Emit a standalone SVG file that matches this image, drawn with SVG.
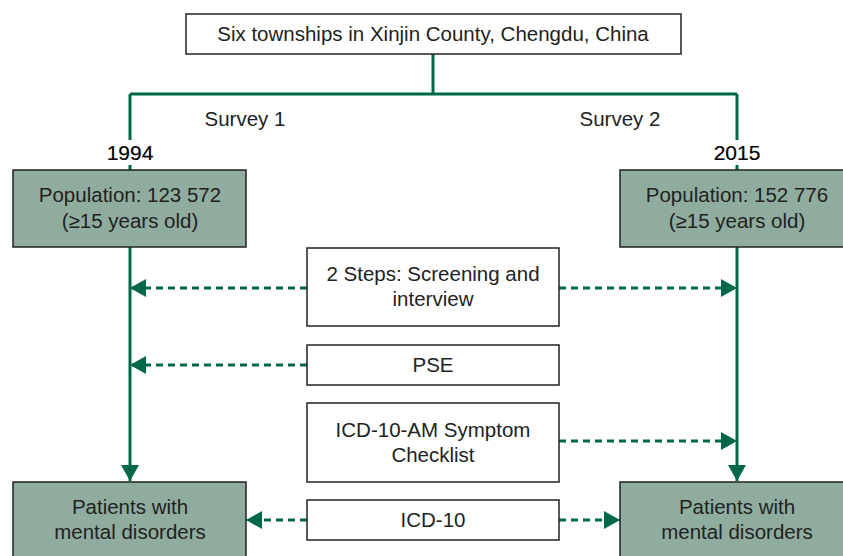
<svg xmlns="http://www.w3.org/2000/svg" width="843" height="556" viewBox="0 0 843 556">
<style>
text{font-family:"Liberation Sans",Arial,sans-serif;font-size:20.5px;fill:#222;text-anchor:middle}
.w{fill:#fff;stroke:#222;stroke-width:1.5}
.g{fill:#8fac9f;stroke:#222;stroke-width:1.5}
.s{fill:none;stroke:#00684a;stroke-width:3}
.d{fill:none;stroke:#00684a;stroke-width:3;stroke-dasharray:7,5}
.yr{font-size:21px;fill:#000;stroke:#000;stroke-width:0.2}
</style>
<defs>
<marker id="a" viewBox="0 0 16 18" refX="16" refY="9" markerWidth="16" markerHeight="18" orient="auto" markerUnits="userSpaceOnUse"><path d="M0,0L16,9L0,18z" fill="#00684a"/></marker>
</defs>
<g id="connectors">
<path class="s" d="M433,54V94M130,94H737M130,94V140M737,94V140M130,165V170M737,165V170"/>
<path class="s" d="M130,247V481" marker-end="url(#a)"/>
<path class="s" d="M737,247V481" marker-end="url(#a)"/>
<path class="d" d="M307,288H130" marker-end="url(#a)"/>
<path class="d" d="M559,288H737" marker-end="url(#a)"/>
<path class="d" d="M307,365H130" marker-end="url(#a)"/>
<path class="d" d="M559,441H737" marker-end="url(#a)"/>
<path class="d" d="M307,520H246" marker-end="url(#a)"/>
<path class="d" d="M559,520H620" marker-end="url(#a)"/>
</g>
<g id="top"><rect class="w" x="186" y="14" width="495" height="40"/><text x="433" y="41">Six townships in Xinjin County, Chengdu, China</text></g>
<g id="labels">
<text x="245" y="126">Survey 1</text>
<text x="620" y="126">Survey 2</text>
<text class="yr" x="130" y="160">1994</text>
<text class="yr" x="737" y="160">2015</text>
</g>
<g id="pop1"><rect class="g" x="13" y="170" width="233" height="77"/><text x="130" y="202">Population: 123 572</text><text x="130" y="228">(≥15 years old)</text></g>
<g id="pop2"><rect class="g" x="620" y="170" width="240" height="77"/><text x="737" y="202">Population: 152 776</text><text x="737" y="228">(≥15 years old)</text></g>
<g id="steps"><rect class="w" x="307" y="248" width="252" height="78"/><text x="433" y="281">2 Steps: Screening and</text><text x="433" y="306">interview</text></g>
<g id="pse"><rect class="w" x="307" y="345" width="252" height="40"/><text x="433" y="372">PSE</text></g>
<g id="icdam"><rect class="w" x="307" y="403" width="252" height="79"/><text x="433" y="437">ICD-10-AM Symptom</text><text x="433" y="462">Checklist</text></g>
<g id="icd"><rect class="w" x="307" y="500" width="252" height="40"/><text x="433" y="527">ICD-10</text></g>
<g id="pat1"><rect class="g" x="13" y="482" width="233" height="80"/><text x="130" y="514">Patients with</text><text x="130" y="539">mental disorders</text></g>
<g id="pat2"><rect class="g" x="620" y="482" width="240" height="80"/><text x="737" y="514">Patients with</text><text x="737" y="539">mental disorders</text></g>
</svg>
